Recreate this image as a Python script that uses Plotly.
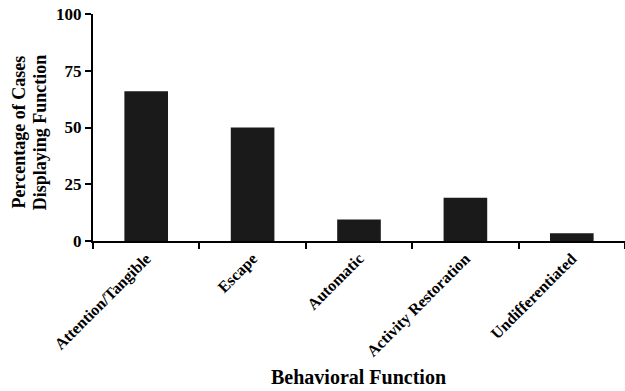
import plotly.graph_objects as go

categories = ["Attention/Tangible", "Escape", "Automatic", "Activity Restoration", "Undifferentiated"]
values = [66, 50, 9.5, 19, 3.4]
y_ticks = [0, 25, 50, 75, 100]
x_title = "Behavioral Function"
y_title_lines = ["Percentage of Cases", "Displaying Function"]

FONT = "Liberation Serif"

L, T, B, R = 93, 14, 150, -3
W, H = 625, 391
PW = W - L - R
PH = H - T - B

fig = go.Figure(go.Bar(
    x=categories, y=values,
    marker=dict(color="#1a1a1a", line=dict(width=0)),
    width=0.41,
))

def px_to_paper_x(px):
    return (px - L) / PW

def px_to_paper_y(py):
    return (H - B - py) / PH

annots = [
    dict(text=x_title, xref="paper", yref="paper",
         x=px_to_paper_x(360), y=px_to_paper_y(377),
         xanchor="center", yanchor="middle", showarrow=False,
         font=dict(family=FONT, size=20, weight="bold", color="black")),
]
for cx, line in zip([19, 40], y_title_lines):
    annots.append(dict(text=line, xref="paper", yref="paper",
                       x=px_to_paper_x(cx), y=px_to_paper_y(132),
                       xanchor="center", yanchor="middle", textangle=-90, showarrow=False,
                       font=dict(family=FONT, size=18, weight="bold", color="black")))

fig.update_layout(
    width=W, height=H,
    margin=dict(l=L, r=max(R, 0), t=T, b=B),
    plot_bgcolor="white", paper_bgcolor="white",
    showlegend=False,
    font=dict(family=FONT, color="black"),
    annotations=annots,
)
fig.update_xaxes(
    automargin=False, ticklabeloverflow="allow",
    showline=True, linecolor="black", linewidth=2,
    ticks="outside", tickson="boundaries", ticklen=6, tickwidth=2, tickcolor="black",
    tickangle=-45,
    tickfont=dict(family=FONT, size=16, weight="bold", color="black"),
    showgrid=False, range=[-0.5, 4.5],
)
fig.update_yaxes(
    automargin=False, ticklabeloverflow="allow",
    range=[0, 100], tickvals=y_ticks, ticktext=[str(v) for v in y_ticks],
    showline=True, linecolor="black", linewidth=2,
    ticks="outside", ticklen=6, tickwidth=2, tickcolor="black",
    tickfont=dict(family=FONT, size=17, weight="bold", color="black"),
    showgrid=False, zeroline=False,
)

fig.write_html("out.html", config={"displayModeBar": False},
               post_script="document.body.style.margin='0';")
